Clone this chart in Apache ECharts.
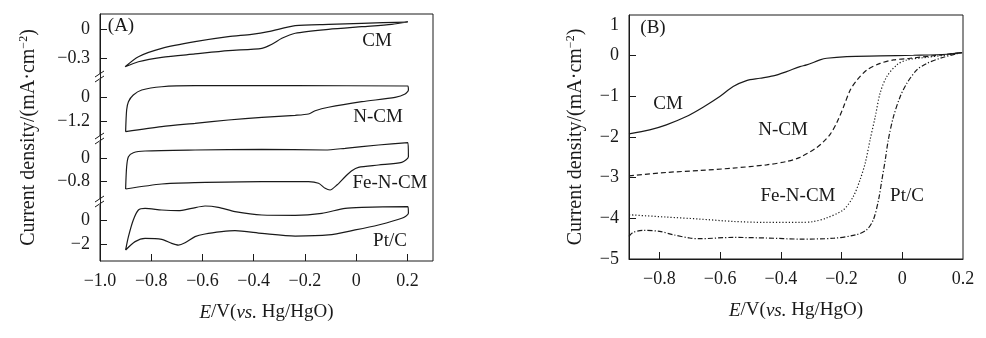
<!DOCTYPE html>
<html>
<head>
<meta charset="utf-8">
<script src="https://cdn.jsdelivr.net/npm/echarts@6/dist/echarts.min.js"></script>
<style>
  html, body { margin: 0; padding: 0; background: #fff; }
  #chart { width: 986px; height: 338px; }
</style>
</head>
<body>
<div id="chart"></div>
<script>
// ---------- (A) cyclic voltammograms: potential E (V) and current density j (mA/cm2) ----------
const cmCvE  = [-0.902,-0.850,-0.759,-0.629,-0.499,-0.408,-0.343,-0.238,-0.108,0.022,0.202,0.139,0.022,-0.108,-0.238,-0.290,-0.329,-0.368,-0.499,-0.629,-0.759,-0.850,-0.902];
const cmCvJ  = [-0.387,-0.283,-0.197,-0.128,-0.076,-0.052,-0.025,0.037,0.051,0.062,0.075,0.051,0.027,0.000,-0.041,-0.093,-0.155,-0.197,-0.221,-0.255,-0.290,-0.335,-0.387];

const ncmCvE = [-0.900,-0.896,-0.889,-0.870,-0.837,-0.759,-0.629,-0.238,0.202,0.204,0.191,0.152,0.022,-0.108,-0.160,-0.186,-0.238,-0.368,-0.499,-0.629,-0.759,-0.900];
const ncmCvJ = [-1.69,-0.625,-0.216,0.113,0.359,0.521,0.571,0.571,0.556,0.359,0.162,0.000,-0.216,-0.49,-0.66,-0.82,-0.885,-0.984,-1.117,-1.28,-1.445,-1.69];

const fencmCvE = [-0.900,-0.896,-0.889,-0.870,-0.824,-0.629,-0.368,-0.121,-0.043,0.087,0.202,0.204,0.178,0.087,0.009,-0.017,-0.043,-0.075,-0.102,-0.121,-0.147,-0.186,-0.368,-0.629,-0.759,-0.900];
const fencmCvJ = [-1.05,-0.287,0.055,0.191,0.250,0.284,0.308,0.284,0.342,0.455,0.533,0.055,-0.137,-0.229,-0.308,-0.424,-0.629,-0.913,-1.084,-1.026,-0.855,-0.80,-0.80,-0.834,-0.879,-1.05];

const ptcCvE = [-0.900,-0.889,-0.870,-0.850,-0.824,-0.759,-0.694,-0.642,-0.590,-0.538,-0.473,-0.368,-0.238,-0.134,-0.043,0.022,0.202,0.204,0.178,0.087,-0.004,-0.108,-0.238,-0.368,-0.473,-0.525,-0.590,-0.629,-0.668,-0.694,-0.720,-0.759,-0.824,-0.863,-0.900];
const ptcCvJ = [-2.47,-1.37,0.00,0.823,0.96,0.823,0.77,0.96,1.15,1.04,0.69,0.41,0.38,0.55,0.96,1.04,1.10,0.55,0.14,-0.41,-0.82,-1.23,-1.32,-1.10,-0.88,-0.96,-1.15,-1.37,-1.87,-2.06,-1.92,-1.59,-1.51,-1.78,-2.47];

// labelled ticks on each stacked CV axis
const cvTicks = [[0, -0.3], [0, -1.2], [0, -0.8], [0, -2]];
const cvNames = ['CM', 'N-CM', 'Fe-N-CM', 'Pt/C'];
const cvXTicks = [-1.0, -0.8, -0.6, -0.4, -0.2, 0, 0.2];

// ---------- (B) linear sweep voltammograms ----------
const cmLsvE = [-0.9,-0.832,-0.777,-0.711,-0.656,-0.601,-0.557,-0.513,-0.469,-0.425,-0.381,-0.337,-0.315,-0.271,-0.249,-0.183,-0.073,0.037,0.147,0.197];
const cmLsvJ = [-1.922,-1.824,-1.701,-1.497,-1.267,-1.005,-0.760,-0.613,-0.556,-0.498,-0.392,-0.269,-0.228,-0.105,-0.064,-0.023,-0.007,0.010,0.035,0.074];

const ncmLsvE = [-0.9,-0.777,-0.667,-0.557,-0.447,-0.381,-0.337,-0.282,-0.260,-0.237,-0.215,-0.193,-0.171,-0.149,-0.116,-0.073,-0.029,0.026,0.147,0.197];
const ncmLsvJ = [-2.954,-2.872,-2.823,-2.765,-2.684,-2.602,-2.50,-2.26,-2.12,-1.93,-1.64,-1.25,-0.84,-0.60,-0.35,-0.19,-0.105,-0.064,0.035,0.074];

const fencmLsvE = [-0.9,-0.777,-0.667,-0.557,-0.447,-0.337,-0.293,-0.249,-0.194,-0.161,-0.139,-0.122,-0.106,-0.089,-0.073,-0.051,-0.018,0.015,0.081,0.147,0.197];
const fencmLsvJ = [-3.912,-3.969,-4.018,-4.076,-4.10,-4.10,-4.08,-3.99,-3.79,-3.46,-3.05,-2.64,-2.07,-1.50,-0.92,-0.515,-0.228,-0.105,-0.04,0.018,0.074];

const ptcLsvE = [-0.9,-0.887,-0.854,-0.799,-0.755,-0.700,-0.667,-0.557,-0.447,-0.337,-0.227,-0.150,-0.117,-0.095,-0.078,-0.067,-0.056,-0.046,-0.029,-0.007,0.015,0.048,0.081,0.125,0.180,0.197];
const ptcLsvJ = [-4.444,-4.346,-4.297,-4.321,-4.403,-4.484,-4.501,-4.469,-4.484,-4.51,-4.49,-4.40,-4.28,-4.03,-3.54,-3.05,-2.56,-2.07,-1.50,-1.01,-0.68,-0.35,-0.19,-0.064,0.05,0.074];

const lsvXTicks = [-0.8, -0.6, -0.4, -0.2, 0, 0.2];
const lsvYTicks = [1, 0, -1, -2, -3, -4, -5];

// ---------- helpers ----------
const FONT = '"Liberation Serif", "Times New Roman", serif';
const INK = '#1a1a1a';
const TICK_FS = 18, NAME_FS = 19, YNAME_FS = 20, NOTE_FS = 19;
const pairs = (xs, ys) => xs.map((x, i) => [x, ys[i]]);
const minus = s => s.replace('-', '\u2212');
const fmt1 = v => (v === 0 ? '0' : minus(v.toFixed(1)));
const fmtN = v => (v === 0 ? '0' : minus(String(v)));
const xTitleStyle = { fontFamily: FONT, fontSize: NAME_FS, color: INK, rich: { i: { fontStyle: 'italic', fontFamily: FONT, fontSize: NAME_FS, color: INK } } };
const yTitleStyle = { fontFamily: FONT, fontSize: YNAME_FS, color: INK, rich: { sup: { fontSize: 12, fontFamily: FONT, color: INK, padding: [0, 0, 10, 0] } } };
const X_TITLE = '{i|E}/V({i|vs.} Hg/HgO)';
const Y_TITLE = 'Current density/(mA\u00b7cm{sup|\u22122})';

// stacked panel (A) layout: four strips sharing one frame
const stripTop = [14, 77, 139, 202];
const stripH   = [63, 62, 63, 59];
const stripMin = [-0.493, -2.051, -1.494, -3.374];
const stripMax = [0.158, 1.0, 0.660, 1.481];
const cvData = [pairs(cmCvE, cmCvJ), pairs(ncmCvE, ncmCvJ), pairs(fencmCvE, fencmCvJ), pairs(ptcCvE, ptcCvJ)];

const grids = [], xAxes = [], yAxes = [], series = [];

for (let i = 0; i < 4; i++) {
  grids.push({ left: 100, width: 333, top: stripTop[i], height: stripH[i], show: false });
  const last = i === 3;
  xAxes.push({
    gridIndex: i, type: 'value', min: -1.0, max: 0.3, show: last, position: 'bottom',
    axisLine: { show: false, onZero: false },
    axisTick: { show: last, inside: true, length: 7, customValues: cvXTicks.slice(1), lineStyle: { color: INK } },
    axisLabel: { show: last, customValues: cvXTicks, formatter: fmt1, margin: 11, fontFamily: FONT, fontSize: TICK_FS, color: INK },
    splitLine: { show: false }
  });
  yAxes.push({
    gridIndex: i, type: 'value', min: stripMin[i], max: stripMax[i], position: 'left',
    axisLine: { show: true, onZero: false, lineStyle: { color: INK, width: 1 } },
    axisTick: { show: true, inside: true, length: 7, customValues: cvTicks[i], lineStyle: { color: INK } },
    axisLabel: { customValues: cvTicks[i], formatter: fmtN, margin: 10, fontFamily: FONT, fontSize: TICK_FS, color: INK },
    splitLine: { show: false }
  });
  series.push({
    name: cvNames[i] + ' CV', type: 'line', xAxisIndex: i, yAxisIndex: i,
    data: cvData[i], showSymbol: false, smooth: 0.25,
    lineStyle: { color: INK, width: 1.2 }, silent: true
  });
}

// frame of panel (A) with the shared axis titles
grids.push({ left: 100, width: 333, top: 14, height: 247, show: true, borderColor: INK, borderWidth: 1, backgroundColor: 'transparent' });
xAxes.push({
  gridIndex: 4, type: 'value', min: -1.0, max: 0.3, position: 'bottom',
  axisLine: { show: false, onZero: false }, axisTick: { show: false }, axisLabel: { show: false }, splitLine: { show: false },
  name: X_TITLE, nameLocation: 'middle', nameGap: 42, nameTextStyle: xTitleStyle
});
yAxes.push({
  gridIndex: 4, type: 'value', min: 0, max: 1, position: 'left',
  axisLine: { show: false, onZero: false }, axisTick: { show: false }, axisLabel: { show: false }, splitLine: { show: false },
  name: Y_TITLE, nameLocation: 'middle', nameGap: 60, nameTextStyle: yTitleStyle
});

// panel (B)
grids.push({ left: 629, width: 334, top: 15, height: 244, show: true, borderColor: INK, borderWidth: 1, backgroundColor: 'transparent' });
xAxes.push({
  gridIndex: 5, type: 'value', min: -0.9, max: 0.2, position: 'bottom',
  axisLine: { show: true, onZero: false, lineStyle: { color: INK } },
  axisTick: { show: true, inside: true, length: 7, customValues: lsvXTicks.slice(0, 5), lineStyle: { color: INK } },
  axisLabel: { customValues: lsvXTicks, formatter: fmt1, margin: 11, fontFamily: FONT, fontSize: TICK_FS, color: INK },
  splitLine: { show: false },
  name: X_TITLE, nameLocation: 'middle', nameGap: 42, nameTextStyle: xTitleStyle
});
yAxes.push({
  gridIndex: 5, type: 'value', min: -5, max: 1, position: 'left',
  axisLine: { show: true, onZero: false, lineStyle: { color: INK } },
  axisTick: { show: true, inside: true, length: 7, customValues: lsvYTicks.slice(1, 6), lineStyle: { color: INK } },
  axisLabel: {
    customValues: lsvYTicks, margin: 10, fontFamily: FONT, fontSize: TICK_FS, color: INK,
    formatter: v => (v === 1 ? '{top|1}' : fmtN(v)),
    rich: { top: { fontFamily: FONT, fontSize: TICK_FS, color: INK, padding: [20, 0, 0, 0] } }
  },
  splitLine: { show: false },
  name: Y_TITLE, nameLocation: 'middle', nameGap: 42, nameTextStyle: yTitleStyle
});

const lsvSets = [
  { name: 'CM', d: pairs(cmLsvE, cmLsvJ), type: 'solid' },
  { name: 'N-CM', d: pairs(ncmLsvE, ncmLsvJ), type: [5, 3] },
  { name: 'Fe-N-CM', d: pairs(fencmLsvE, fencmLsvJ), type: [1.2, 2] },
  { name: 'Pt/C', d: pairs(ptcLsvE, ptcLsvJ), type: [5, 2, 1.2, 2] }
];
lsvSets.forEach(s => series.push({
  name: s.name + ' LSV', type: 'line', xAxisIndex: 5, yAxisIndex: 5,
  data: s.d, showSymbol: false, smooth: 0.3,
  lineStyle: { color: INK, width: 1.2, type: s.type }, silent: true
}));

// text annotations and axis-break marks
const txt = (x, y, t) => ({ type: 'text', x, y, style: { text: t, font: NOTE_FS + 'px ' + FONT, fill: INK, textAlign: 'center', textVerticalAlign: 'middle' } });
const breakMark = y => ({
  type: 'group', children: [
    { type: 'rect', shape: { x: 98, y: y - 3, width: 4, height: 6 }, style: { fill: '#fff' } },
    { type: 'line', shape: { x1: 95, y1: y, x2: 104, y2: y - 6 }, style: { stroke: INK, lineWidth: 1 } },
    { type: 'line', shape: { x1: 95, y1: y + 5, x2: 104, y2: y - 1 }, style: { stroke: INK, lineWidth: 1 } }
  ]
});

const graphic = [
  txt(121, 26, '(A)'), txt(377, 41, 'CM'), txt(378, 117, 'N-CM'), txt(390, 183, 'Fe-N-CM'), txt(390, 241, 'Pt/C'),
  txt(653, 28, '(B)'), txt(668, 104, 'CM'), txt(783, 130, 'N-CM'), txt(798, 196, 'Fe-N-CM'), txt(907, 196, 'Pt/C'),
  breakMark(77), breakMark(139), breakMark(202)
];

const chart = echarts.init(document.getElementById('chart'), null, { renderer: 'canvas' });
chart.setOption({
  animation: false,
  backgroundColor: '#fff',
  grid: grids, xAxis: xAxes, yAxis: yAxes, series, graphic
});
</script>
</body>
</html>
